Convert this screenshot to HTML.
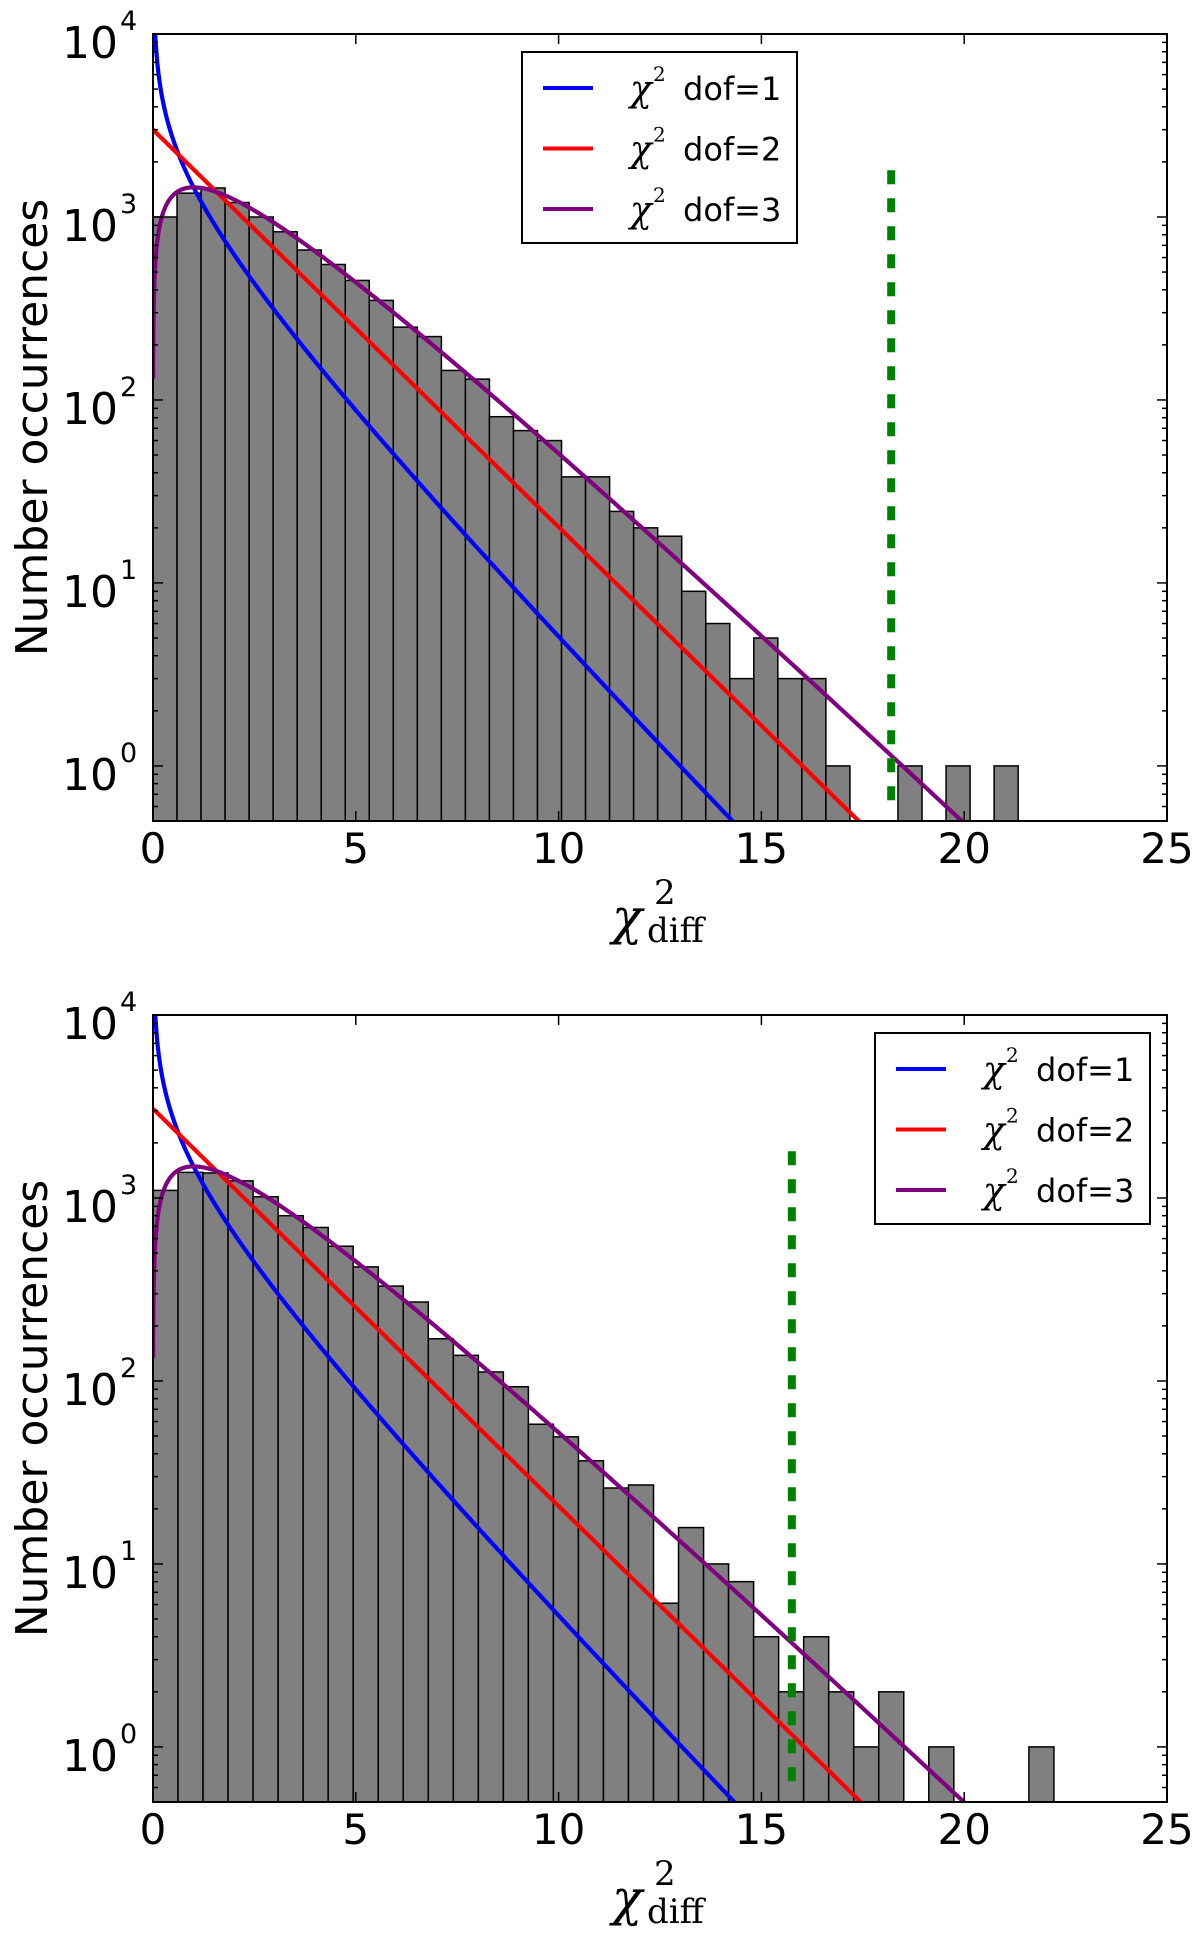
<!DOCTYPE html>
<html><head><meta charset="utf-8"><style>
html,body{margin:0;padding:0;background:#fff;}
svg{display:block;}
text{font-family:"DejaVu Sans","Liberation Sans",sans-serif;}
.serif{font-family:"DejaVu Serif","Liberation Serif",serif;}
</style></head><body>
<svg id="fig" width="1200" height="1936" viewBox="0 0 1200 1936" xmlns="http://www.w3.org/2000/svg"></svg>
<script>
// ---- data ----
const topCounts = [1000,1350,1440,1200,1000,830,660,550,450,350,250,222,145,130,81,68,60,38,38,24.6,20,18,9,6,3,5,3,3,1,0,0,1,0,1,0,1];
const bottomCounts = [1100,1380,1370,1240,1015,800,690,545,420,330,270,170,138,112,93,58,49.5,36.6,26,27,6.1,15.8,10,8,4,2,4,2,1,2,0,1,0,0,0,1];
const topBinWidth = [0.5925];
const bottomBinWidth = [0.617];
const curveScale = [6000, 6150];       // N*binwidth for top, bottom
const thresholdX = [18.2, 15.75];      // green dashed line positions
const thresholdRange = [0.55, 1800];
const xTicks = [0,5,10,15,20,25];
const yTickExp = [0,1,2,3,4];
const legendLabels = ["dof=1","dof=2","dof=3"];
const curveColors = ["#0000ff","#ff0000","#800080"];

const NS="http://www.w3.org/2000/svg";
const svg=document.getElementById('fig');
function mk(tag,attrs,parent){const e=document.createElementNS(NS,tag);for(const k in attrs)e.setAttribute(k,attrs[k]);(parent||svg).appendChild(e);return e;}

function pdf(k,x){
  if(k===1) return Math.pow(x,-0.5)*Math.exp(-x/2)/Math.sqrt(2*Math.PI);
  if(k===2) return 0.5*Math.exp(-x/2);
  return Math.sqrt(x)*Math.exp(-x/2)/Math.sqrt(2*Math.PI);
}

function panel(idx, top, counts, bw, legendX){
  const L=153,R=1167,T=top,B=top+787;
  const ymin=Math.log10(0.5), ymax=4;
  const X=v=>L+(v/25)*(R-L);
  const Y=v=>B-(Math.log10(v)-ymin)/(ymax-ymin)*(B-T);
  const g=mk('g',{});
  
  
  const clipId='clip'+idx;
  const cp=mk('clipPath',{id:clipId},g);mk('rect',{x:L,y:T,width:R-L,height:B-T},cp);
  const plot=mk('g',{'clip-path':'url(#'+clipId+')'},g);
  counts.forEach((c,i)=>{
    if(c<=0) return;
    const r=mk('rect',{x:X(i*bw),y:Y(c),width:X((i+1)*bw)-X(i*bw),height:B-Y(c),fill:'#808080',stroke:'#000','stroke-width':1.5},plot);
    
    
  });
  [1,2,3].forEach((k,ci)=>{
    let d='';
    for(let j=0;j<=600;j++){
      const xx = j<60 ? 0.003+Math.pow(j/60,2)*2.5 : 2.5+(j-60)/540*22.5;
      const v=pdf(k,xx)*curveScale[idx];
      d+=(j?'L':'M')+X(xx).toFixed(2)+' '+Math.max(Math.min(Y(v),B+50),T-50).toFixed(2);
    }
    const p=mk('path',{d:d,fill:'none',stroke:curveColors[ci],'stroke-width':4.2},plot);
    
    
  });
  const th=mk('line',{x1:X(thresholdX[idx]),x2:X(thresholdX[idx]),y1:Y(thresholdRange[1]),y2:Y(thresholdRange[0]),stroke:'#008000','stroke-width':8,'stroke-dasharray':'14 14'},g);
  
  
  const fr=mk('rect',{x:L,y:T,width:R-L,height:B-T,fill:'none',stroke:'#000','stroke-width':2},g);
  
  
  xTicks.forEach(t=>{
    const x=X(t);
    mk('line',{x1:x,x2:x,y1:B,y2:B-10,stroke:'#000','stroke-width':1.5},g);
    mk('line',{x1:x,x2:x,y1:T,y2:T+10,stroke:'#000','stroke-width':1.5},g);
    const tx=mk('text',{x:x,y:B+42,'font-size':42,'text-anchor':'middle'},g);
    tx.textContent=t;
    
    
  });
  for(let e=-1;e<=3;e++){
    for(let m=1;m<10;m++){
      const v=m*Math.pow(10,e);
      if(v<0.5||v>1e4) continue;
      const y=Y(v), len=(m===1)?10:5;
      mk('line',{x1:L,x2:L+len,y1:y,y2:y,stroke:'#000','stroke-width':1.5},g);
      mk('line',{x1:R,x2:R-len,y1:y,y2:y,stroke:'#000','stroke-width':1.5},g);
    }
  }
  yTickExp.forEach(e=>{
    const y=Y(Math.pow(10,e));
    const tx=mk('text',{x:118,y:y+24,'font-size':44,'text-anchor':'end'},g);
    tx.textContent='10';
    
    
    const sp=mk('text',{x:120,y:y-4,'font-size':27},g);
    sp.textContent=e;
  });
  const yl=mk('text',{x:0,y:0,'font-size':44,'text-anchor':'middle',transform:'translate(47,'+((T+B)/2)+') rotate(-90)'},g);
  yl.textContent='Number occurrences';
  
  
  const xl=mk('g',{},g);
  
  
  const oy=T-34;
  const c1=mk('text',{x:612,y:oy+934,'font-size':50,'font-style':'italic',class:'serif'},xl);c1.textContent='χ';
  const c2=mk('text',{x:654,y:oy+904,'font-size':34,class:'serif'},xl);c2.textContent='2';
  const c3=mk('text',{x:647,y:oy+942,'font-size':34,class:'serif'},xl);c3.textContent='diff';
  const lg=mk('g',{},g);
  
  
  const ly=T+18;
  mk('rect',{x:legendX,y:ly,width:275,height:191,fill:'#fff',stroke:'#000','stroke-width':2},lg);
  legendLabels.forEach((lab,i)=>{
    const ry=ly+36+i*60.5;
    const ent=mk('g',{},lg);
    
    
    mk('line',{x1:legendX+21,x2:legendX+71,y1:ry,y2:ry,stroke:curveColors[i],'stroke-width':4},ent);
    const a=mk('text',{x:legendX+108,y:ry+13,'font-size':36,'font-style':'italic',class:'serif'},ent);a.textContent='χ';
    const b=mk('text',{x:legendX+131,y:ry-7,'font-size':20,class:'serif'},ent);b.textContent='2';
    const t=mk('text',{x:legendX+161,y:ry+12,'font-size':32},ent);t.textContent=lab;
  });
}
panel(0,34,topCounts,topBinWidth[0],522);
panel(1,1015,bottomCounts,bottomBinWidth[0],875);
</script>
</body></html>
